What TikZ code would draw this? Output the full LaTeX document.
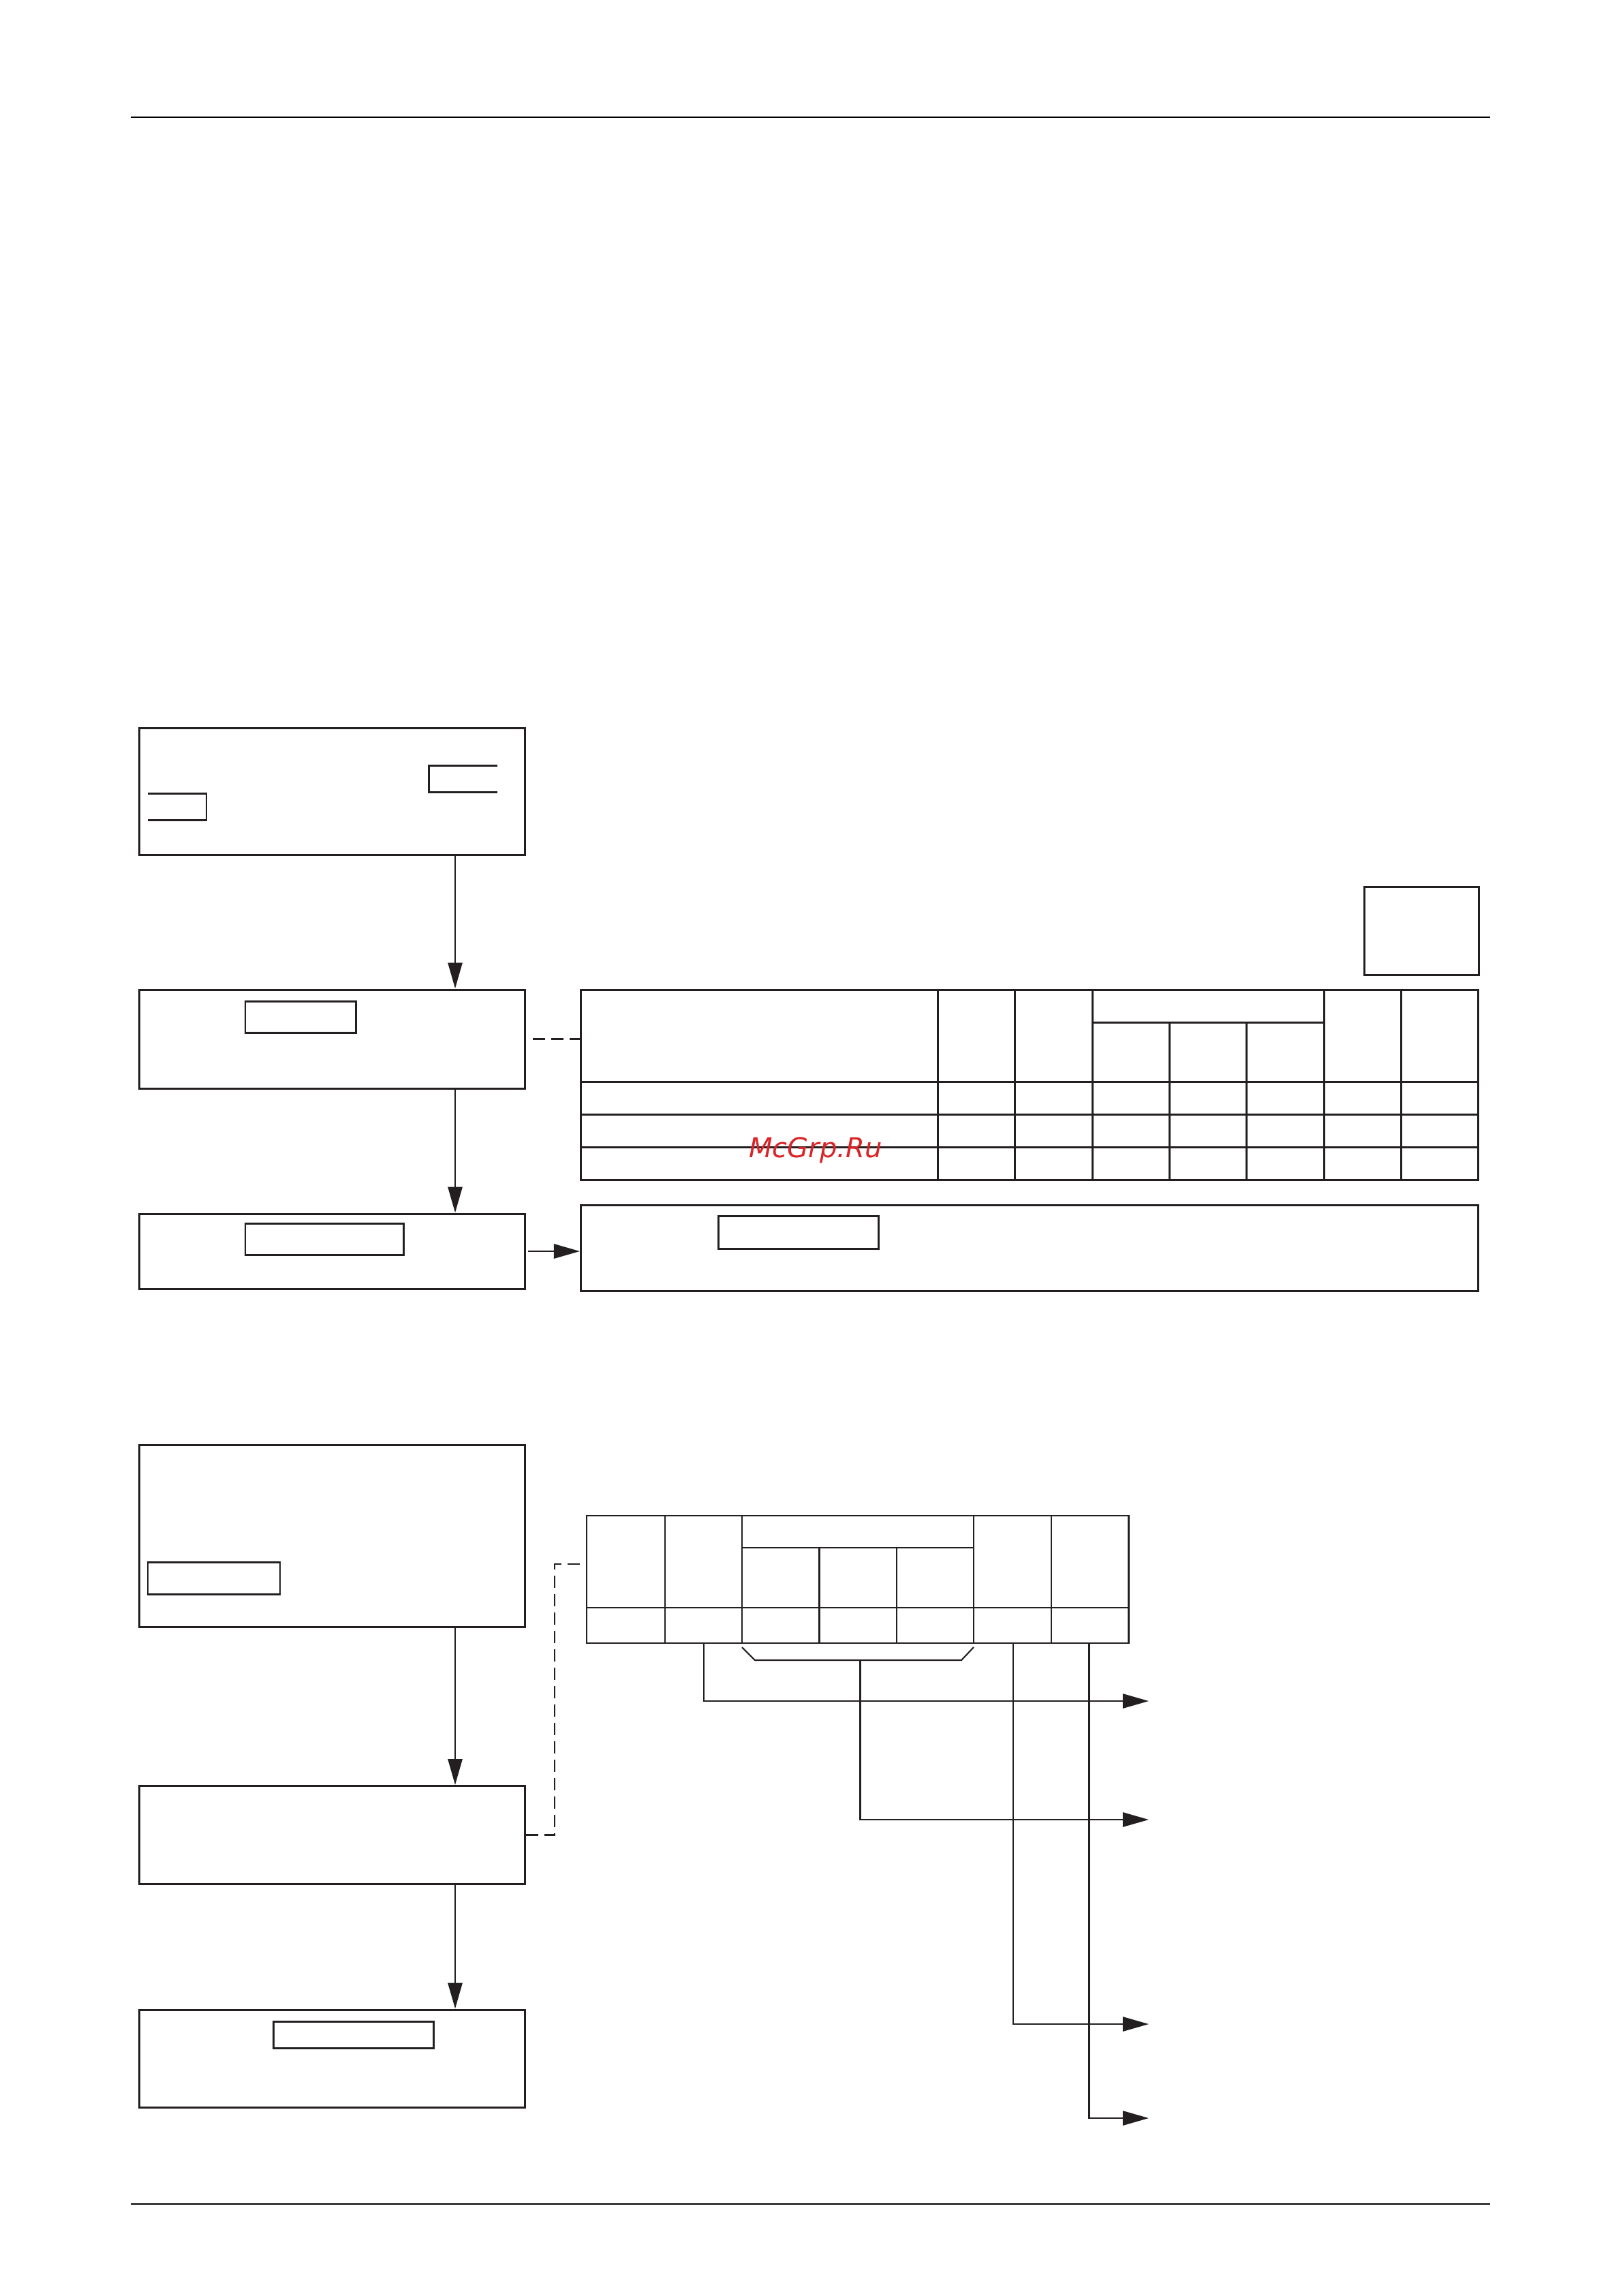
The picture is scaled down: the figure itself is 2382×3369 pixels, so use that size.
\documentclass[tikz,border=0pt]{standalone}
\usepackage{fontspec}
\newfontfamily\wmfont{DejaVu Sans}
\usetikzlibrary{arrows.meta,fit}
\definecolor{ink}{RGB}{35,31,32}
\definecolor{wmred}{RGB}{218,37,40}
\begin{document}
\begin{tikzpicture}[x=0.01cm,y=-0.01cm,
  mybox/.style={draw=ink,line width=0.85pt,inner sep=0pt},
  tline/.style={draw=ink,line width=0.85pt},
  tline2/.style={draw=ink,line width=0.6pt},
  myarr/.style={draw=ink,line width=0.8pt,-{Triangle[length=0.38cm,width=0.21cm]}},
  mydash/.style={draw=ink,line width=0.8pt,dash pattern=on 0.18cm off 0.09cm},
  rule/.style={draw=black,line width=0.7pt}]
\useasboundingbox (0,0) rectangle (2382,3369);
\fill[white] (0,0) rectangle (2382,3369);
% header / footer rules
\coordinate (hl) at (192,172); \coordinate (hr) at (2187,172);
\coordinate (fl) at (192,3234); \coordinate (fr) at (2187,3234);
\draw[rule] (hl) -- (hr);
\draw[rule] (fl) -- (fr);
% main boxes
\node[mybox,fit={(204.5,1068)(770,1254)}] (b1) {};
\node[mybox,fit={(204.5,1452)(770,1597)}] (b2) {};
\node[mybox,fit={(204.5,1781)(770,1891)}] (b3) {};
\node[mybox,fit={(852.5,1768)(2169,1894)}] (b4) {};
\node[mybox,fit={(852.5,1452)(2169,1731)}] (t1) {};
\node[mybox,fit={(2002,1301)(2170,1430)}] (sb) {};
\node[mybox,fit={(204.5,2120)(770,2387)}] (b5) {};
\node[mybox,fit={(204.5,2620.5)(770,2764.5)}] (b6) {};
\node[mybox,fit={(204.5,2949)(770,3092)}] (b7) {};
\node[draw=ink,line width=0.6pt,inner sep=0pt,fit={(861,2224)(1656.5,2411)}] (t2) {};
% inner boxes
\draw[tline] (730,1123) -- (629,1123) -- (629,1162) -- (730,1162);
\draw[tline] (217,1164) -- (303,1164) -- (303,1203) -- (217,1203);
\node[mybox,fit={(360,1469)(522,1515)}] (i2) {};
\node[mybox,fit={(360,1795)(592,1841)}] (i3) {};
\node[mybox,fit={(1054,1784)(1289,1832)}] (i4) {};
\node[mybox,fit={(217,2292)(411,2339)}] (i5) {};
\node[mybox,fit={(401.6,2966)(636,3005)}] (i7) {};
% table 1
\draw[tline] (852.5,1587) -- (2169,1587);
\draw[tline] (852.5,1635) -- (2169,1635);
\draw[tline] (852.5,1683) -- (2169,1683);
\draw[tline] (1603,1500) -- (1943,1500);
\foreach \cx in {1376,1489,1603,1943,2056} \draw[tline] (\cx,1452) -- (\cx,1731);
\foreach \cx in {1716,1829} \draw[tline] (\cx,1500) -- (\cx,1731);
% table 2
\draw[tline2] (861,2359) -- (1656.5,2359);
\draw[tline2] (1089,2271) -- (1429,2271);
\foreach \cx in {976,1089,1429,1543} \draw[tline2] (\cx,2224) -- (\cx,2411);
\foreach \cx in {1202.5,1316} \draw[tline2] (\cx,2271) -- (\cx,2411);
% vertical flow arrows
\coordinate (ax) at (668,0);
\draw[myarr] (b1.south -| ax) -- (b2.north -| ax);
\draw[myarr] (b2.south -| ax) -- (b3.north -| ax);
\draw[myarr] (b5.south -| ax) -- (b6.north -| ax);
\draw[myarr] (b6.south -| ax) -- (b7.north -| ax);
% side connectors
\draw[mydash] ([xshift=0.1cm]b2.east) -- (b2.east -| t1.west);
\draw[myarr] ([xshift=0.03cm]b3.east) -- (b3.east -| b4.west);
\coordinate (dk) at (814,2295);
\coordinate (t2in) at (861,2295);
\draw[mydash] (b6.east) -| (dk) -- (t2in);
% outputs from table 2
\coordinate (o1) at (1686,2496);
\coordinate (o2) at (1686,2670);
\coordinate (o3) at (1686,2970);
\coordinate (o4) at (1686,3108);
\coordinate (c1) at (1033,0);
\coordinate (c3) at (1487,0);
\coordinate (c4) at (1598.7,0);
\coordinate (brk) at (1262.6,2436);
\draw[tline2] (1089,2417) -- (1108,2436) -- (1411,2436) -- (1429,2417);
\draw[myarr] (t2.south -| c1) |- (o1);
\draw[myarr] (brk) |- (o2);
\draw[myarr] (t2.south -| c3) |- (o3);
\draw[myarr] (t2.south -| c4) |- (o4);
% watermark
\node[anchor=base,text=wmred,font=\wmfont\itshape\fontsize{11.4pt}{13pt}\selectfont,inner sep=0pt] (wm) at (1197,1698) {McGrp.Ru};
\end{tikzpicture}
\end{document}
